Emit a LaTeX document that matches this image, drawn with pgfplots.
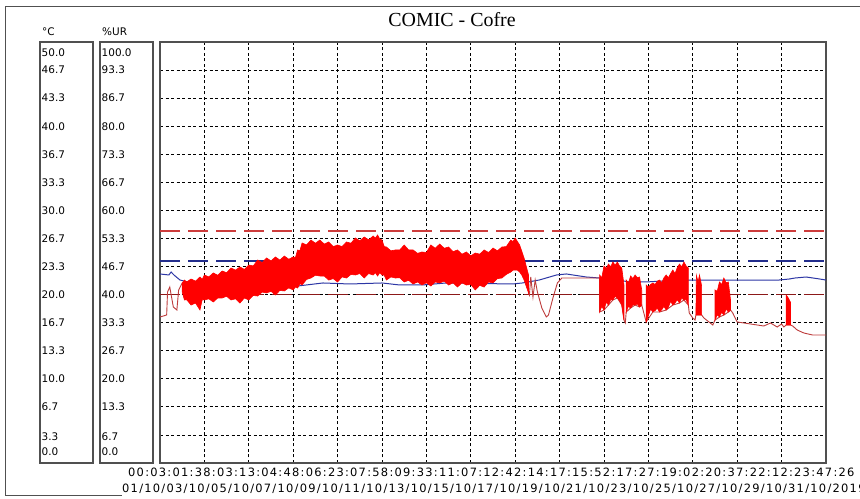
\documentclass[border=0pt]{standalone}
\usepackage{fontspec}
\setmainfont{DejaVu Sans}
\newfontfamily\titlefont{Liberation Serif}
\newfontfamily\lblfont[LetterSpace=11]{DejaVu Sans}
\usepackage{pgfplots}
\pgfplotsset{compat=1.18}
\definecolor{limred}{RGB}{205,60,60}
\definecolor{limblue}{RGB}{35,45,140}
\definecolor{limdark}{RGB}{140,25,25}
\definecolor{humblue}{RGB}{45,55,165}
\definecolor{thinred}{RGB}{190,60,60}
\definecolor{boxgray}{RGB}{80,80,80}
\begin{document}
\begin{tikzpicture}
\fill[white] (0bp,0bp) rectangle (860bp,499bp);
\draw[boxgray, line width=1bp] (860bp,492bp) -- (5bp,492bp) -- (5bp,3bp) -- (122bp,3bp);
\node[font=\titlefont\fontsize{20}{24}\selectfont, anchor=base] at (452bp,472.5bp) {COMIC - Cofre};
\node[font=\fontsize{10.5}{12}\selectfont, anchor=west, inner sep=0pt] at (42bp,467.5bp) {°C};
\node[font=\fontsize{10.5}{12}\selectfont, anchor=west, inner sep=0pt] at (102bp,467.5bp) {\%UR};

\pgfplotsset{sidebox/.style={scale only axis, width=53bp, height=421bp, anchor=south west,
  xmin=0, xmax=1, xtick=\empty, major tick length=0pt,
  axis line style={boxgray, line width=1.2bp},
  yticklabel style={anchor=west, inner sep=1.5bp, font=\fontsize{10.5}{12}\selectfont}}}

\begin{axis}[sidebox, at={(40bp,36bp)}, ymin=0, ymax=50,
  ytick={1.31,3.1,6.667,10,13.333,16.667,20,23.333,26.667,30,33.333,36.667,40,43.333,46.667,48.7},
  yticklabels={0.0,3.3,6.7,10.0,13.3,16.7,20.0,23.3,26.7,30.0,33.3,36.7,40.0,43.3,46.7,50.0}]
\end{axis}
\begin{axis}[sidebox, at={(100bp,36bp)}, ymin=0, ymax=100,
  ytick={2.62,6.2,13.333,20,26.667,33.333,40,46.667,53.333,60,66.667,73.333,80,86.667,93.333,97.4},
  yticklabels={0.0,6.7,13.3,20.0,26.7,33.3,40.0,46.7,53.3,60.0,66.7,73.3,80.0,86.7,93.3,100.0}]
\end{axis}

\begin{axis}[scale only axis, width=666bp, height=421bp, at={(160bp,36bp)}, anchor=south west,
  xmin=0, xmax=15, ymin=0, ymax=50,
  xtick={0,...,15},
  xticklabels={
   {\hspace*{6bp}00:03:\\01/10/},{\hspace*{6bp}01:38:\\03/10/},{\hspace*{6bp}03:13:\\05/10/},
   {\hspace*{6bp}04:48:\\07/10/},{\hspace*{6bp}06:23:\\09/10/},{\hspace*{6bp}07:58:\\11/10/},
   {\hspace*{6bp}09:33:\\13/10/},{\hspace*{6bp}11:07:\\15/10/},{\hspace*{6bp}12:42:\\17/10/},
   {\hspace*{6bp}14:17:\\19/10/},{\hspace*{6bp}15:52:\\21/10/},{\hspace*{6bp}17:27:\\23/10/},
   {\hspace*{6bp}19:02:\\25/10/},{\hspace*{6bp}20:37:\\27/10/},{\hspace*{6bp}22:12:\\29/10/},
   {\hspace*{6bp}23:47:26\\31/10/2019}},
  xticklabel style={anchor=north west, xshift=-38bp, yshift=-5bp, align=left, inner sep=0pt,
    font=\lblfont\fontsize{11.5}{16}\selectfont},
  ytick={3.3333,6.6667,10,13.3333,16.6667,20,23.3333,26.6667,30,33.3333,36.6667,40,43.3333,46.6667},
  yticklabel=\empty,
  grid=major, major grid style={black, line width=0.8bp, dash pattern=on 3bp off 2.5bp},
  major tick length=0pt,
  axis line style={boxgray, line width=1.2bp},
  clip=true]
% limit lines
\addplot[limred, line width=1.9bp, dash pattern=on 20bp off 8bp] coordinates {(0,27.5) (15,27.5)};
\addplot[limblue, line width=1.6bp, dash pattern=on 20bp off 8bp] coordinates {(0,24.0) (15,24.0)};
\addplot[limdark, line width=1.6bp, dash pattern=on 20bp off 8bp] coordinates {(0,20.0) (15,20.0)};
% second sensor (blue)
\addplot[humblue, line width=1bp] coordinates {
(0,22.45) (0.2,22.33) (0.25,22.68) (0.32,22.3) (0.45,21.73) (0.9,21.14) (2.0,20.78)
(3.1,21.02) (3.67,21.38) (4.27,21.26) (5.0,21.38) (5.4,21.14) (5.9,21.14) (6.45,21.38)
(7.94,21.26) (8.16,21.38) (8.54,21.73) (8.93,22.33) (9.15,22.45) (9.6,22.09) (9.9,21.97)
(10.2,21.85) (10.57,21.50) (10.95,21.50) (11.7,21.73) (12.44,21.73) (13.94,21.73)
(14.17,21.85) (14.3,21.97) (14.55,22.09) (14.8,21.9) (15,21.73)};
% red thin parts
\addplot[thinred, line width=0.9bp] coordinates {
(0,17.34) (0.15,17.58) (0.17,20.31) (0.22,20.90) (0.3,18.53) (0.38,18.17) (0.42,20.55) (0.5,21.38)};
\addplot[thinred, line width=0.9bp] coordinates {
(8.3,20.19) (8.32,19.95) (8.35,22.09) (8.4,19.71) (8.45,21.73) (8.5,20.31) (8.6,18.41)
(8.7,17.34) (8.75,17.58) (8.85,19.60) (8.95,21.38) (9.05,21.97) (9.9,21.97)
(9.9,17.93) (10.0,18.17) (10.1,18.76) (10.2,19.36) (10.3,19.60) (10.4,18.76) (10.45,16.98)
(10.48,16.63) (10.5,17.93) (10.6,18.41) (10.7,18.76) (10.8,18.53) (10.85,18.76) (10.95,16.75)
(11.1,17.93) (11.25,17.93) (11.4,18.17) (11.55,18.76) (11.7,19.00) (11.8,19.36) (11.9,18.76)
(11.92,17.81) (12.0,17.22) (12.05,16.98) (12.07,17.58) (12.2,17.58) (12.25,17.22) (12.45,16.39)
(12.5,16.98) (12.6,17.34) (12.7,17.58) (12.8,17.93) (12.85,18.17) (12.9,17.81) (13.0,16.75)
(13.3,16.51) (13.6,16.27) (13.75,16.63) (13.9,16.15) (14.0,16.51) (14.05,16.15) (14.1,16.39)
(14.2,16.39) (14.25,16.27) (14.35,15.80) (14.5,15.44) (14.7,15.20) (15,15.20)};
% dense oscillation bands (upper and lower envelopes)
\addplot[fill=red, draw=red, line width=0.6bp] coordinates {
(0.5,21.38) (0.55,21.73) (0.6,21.5) (0.7,21.85) (0.8,21.6) (0.9,22.09) (0.95,21.8) (1.0,22.33)
(1.1,22.1) (1.2,22.57) (1.3,22.3) (1.4,22.80) (1.5,22.6) (1.6,23.16) (1.7,22.9) (1.8,23.28)
(1.9,23.0) (2.0,23.52) (2.1,23.4) (2.2,24.11) (2.3,23.8) (2.4,24.35) (2.5,24.0) (2.6,24.47)
(2.7,24.1) (2.8,24.58) (2.9,24.2) (3.0,24.47) (3.05,24.4) (3.1,25.30) (3.15,25.2) (3.2,26.13)
(3.3,25.9) (3.4,26.48) (3.5,26.1) (3.6,26.48) (3.7,26.0) (3.8,26.25) (3.9,25.7) (4.0,25.89)
(4.1,25.7) (4.2,26.25) (4.3,26.1) (4.4,26.72) (4.5,26.4) (4.6,26.84) (4.7,26.5) (4.8,26.96)
(4.85,26.7) (4.9,27.08) (4.95,26.6) (5.0,26.48) (5.05,25.7) (5.1,25.65) (5.2,25.2) (5.3,25.30)
(5.4,25.3) (5.5,25.89) (5.6,25.3) (5.7,25.30) (5.8,24.9) (5.9,25.06) (6.0,25.0) (6.1,25.89)
(6.2,25.5) (6.3,26.01) (6.4,25.5) (6.5,25.65) (6.6,25.1) (6.7,25.30) (6.8,24.8) (6.9,25.06)
(7.0,24.6) (7.1,24.94) (7.2,24.8) (7.3,25.30) (7.4,25.0) (7.5,25.53) (7.6,25.2) (7.7,25.65)
(7.8,25.7) (7.9,26.48) (7.95,26.3) (8.0,26.72) (8.05,26.3) (8.1,25.89) (8.2,24.35) (8.3,22.33)
(8.3,20.19) (8.2,21.73) (8.15,22.3) (8.1,22.68) (8.05,22.9) (8.0,22.92) (7.95,22.9) (7.9,22.68)
(7.8,22.4) (7.7,21.97) (7.6,21.9) (7.5,21.38) (7.4,21.5) (7.3,20.90) (7.2,21.1) (7.1,20.55)
(7.0,21.2) (6.9,21.14) (6.8,21.4) (6.7,20.90) (6.6,21.4) (6.5,21.14) (6.4,21.6) (6.3,21.38)
(6.2,21.5) (6.1,21.02) (6.0,21.4) (5.9,21.14) (5.8,21.5) (5.7,21.26) (5.6,21.7) (5.5,21.50)
(5.4,22.0) (5.3,21.97) (5.2,22.1) (5.1,21.73) (5.05,22.3) (5.0,22.33) (4.95,22.6) (4.9,22.21)
(4.85,22.6) (4.8,22.33) (4.7,22.5) (4.6,21.97) (4.5,22.5) (4.4,22.33) (4.3,22.4) (4.2,21.97)
(4.1,22.1) (4.0,21.50) (3.9,21.9) (3.8,21.73) (3.7,22.2) (3.6,22.21) (3.5,22.3) (3.4,21.97)
(3.3,21.8) (3.2,21.14) (3.15,21.3) (3.1,20.78) (3.05,20.9) (3.0,20.55) (2.9,20.8) (2.8,20.43)
(2.7,20.5) (2.6,19.95) (2.5,20.4) (2.4,20.19) (2.3,20.3) (2.2,19.83) (2.1,19.9) (2.0,19.36)
(1.9,19.6) (1.8,19.00) (1.7,19.5) (1.6,19.36) (1.5,19.8) (1.4,19.60) (1.3,19.6) (1.2,19.12)
(1.1,19.5) (1.0,19.36) (0.95,19.4) (0.9,18.17) (0.8,19.0) (0.7,18.76) (0.6,19.4) (0.55,19.36)
(0.5,20.31)} -- cycle;
\addplot[fill=red, draw=red, line width=0.6bp] coordinates {
(9.9,22.33) (9.95,22.0) (10.0,23.40) (10.05,23.1) (10.1,23.63) (10.15,23.3) (10.2,23.87)
(10.25,23.5) (10.3,23.87) (10.35,23.4) (10.4,23.16) (10.45,21.14)
(10.45,16.98) (10.4,18.76) (10.35,19.3) (10.3,19.60) (10.25,19.8) (10.2,19.36) (10.15,19.4)
(10.1,18.76) (10.05,19.1) (10.0,18.17) (9.95,18.6) (9.9,17.93)} -- cycle;
\addplot[fill=red, draw=red, line width=0.6bp] coordinates {
(10.5,21.73) (10.55,21.4) (10.6,22.21) (10.65,21.9) (10.7,22.33) (10.75,22.0) (10.8,22.09) (10.85,20.55)
(10.85,18.76) (10.8,18.53) (10.75,18.9) (10.7,18.76) (10.65,18.8) (10.6,18.41) (10.55,18.6) (10.5,17.93)} -- cycle;
\addplot[fill=red, draw=red, line width=0.6bp] coordinates {
(10.95,21.14) (11.0,20.9) (11.05,21.2) (11.1,21.38) (11.15,21.2) (11.2,21.6) (11.25,21.73)
(11.3,21.4) (11.35,22.0) (11.4,22.33) (11.45,22.0) (11.5,22.5) (11.55,22.92) (11.6,22.5)
(11.65,23.2) (11.7,23.63) (11.75,23.3) (11.8,23.87) (11.85,23.4) (11.9,23.16)
(11.9,18.76) (11.85,19.4) (11.8,19.36) (11.75,19.6) (11.7,19.00) (11.65,19.4) (11.6,19.0)
(11.55,18.76) (11.5,19.2) (11.45,18.5) (11.4,18.17) (11.35,18.6) (11.3,18.2) (11.25,17.93)
(11.2,18.4) (11.15,18.1) (11.1,17.93) (11.05,18.3) (11.0,17.5) (10.95,16.75)} -- cycle;
\addplot[fill=red, draw=red, line width=0.6bp] coordinates {
(12.07,17.58) (12.08,22.30) (12.12,21.50) (12.15,22.33) (12.2,21.00) (12.2,17.58)} -- cycle;
\addplot[fill=red, draw=red, line width=0.6bp] coordinates {
(12.5,20.55) (12.55,20.4) (12.6,21.50) (12.65,21.2) (12.7,21.97) (12.75,21.4) (12.8,21.50) (12.85,19.36)
(12.85,18.17) (12.8,17.93) (12.75,18.3) (12.7,17.58) (12.65,17.9) (12.6,17.34) (12.55,17.6) (12.5,16.98)} -- cycle;
\addplot[fill=red, draw=red, line width=0.6bp] coordinates {
(14.1,16.39) (14.1,19.95) (14.14,19.70) (14.2,19.10) (14.2,16.39)} -- cycle;
\end{axis}
\pgfresetboundingbox
\useasboundingbox (0bp,0bp) rectangle (860bp,499bp);
\end{tikzpicture}
\end{document}
